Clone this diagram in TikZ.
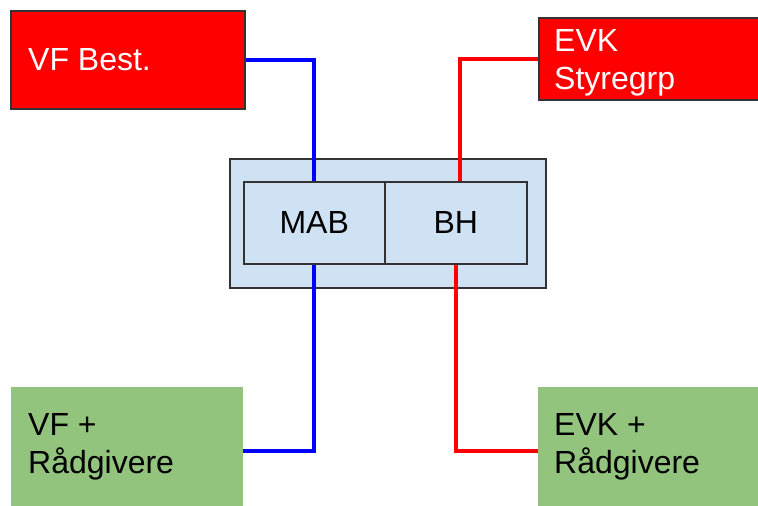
\documentclass[tikz,border=0pt]{standalone}
\usepackage{fontspec}
\setmainfont{Liberation Sans}
\definecolor{boxred}{HTML}{FF0000}
\definecolor{boxgreen}{HTML}{93C47D}
\definecolor{boxblue}{HTML}{CFE2F3}
\definecolor{edgegray}{HTML}{333333}
\definecolor{lineblue}{HTML}{0000FF}
\definecolor{linered}{HTML}{FF0000}
\begin{document}
\begin{tikzpicture}[x=1pt,y=-1pt,
  boxbase/.style={rectangle, inner sep=0pt, anchor=north west},
  redbox/.style={boxbase, draw=edgegray, line width=1.5pt, fill=boxred},
  greenbox/.style={boxbase, fill=boxgreen},
  outerbox/.style={boxbase, draw=edgegray, line width=1.5pt, fill=boxblue},
  innerbox/.style={boxbase, draw=edgegray, line width=1.5pt, fill=boxblue,
    font=\fontsize{32}{38}\selectfont, text=black},
  labeltext/.style={anchor=north west, inner sep=0pt, align=left,
    font=\fontsize{32}{38}\selectfont},
  blueline/.style={draw=lineblue, line width=4pt},
  redline/.style={draw=linered, line width=3.5pt}]
\useasboundingbox (0,0) rectangle (758,506);
\clip (0,0) rectangle (758,506);
% boxes
\node[redbox, minimum width=234pt, minimum height=98pt] (vfb) at (10,10) {};
\node[redbox, minimum width=232pt, minimum height=82pt] (evks) at (538,17) {};
\node[outerbox, minimum width=316pt, minimum height=129pt] (grp) at (229,158) {};
\node[innerbox, minimum width=141pt, minimum height=82pt] (mab) at (243,181) {MAB};
\node[innerbox, minimum width=142pt, minimum height=82pt] (bh) at (384,181) {BH};
\node[greenbox, minimum width=232pt, minimum height=128pt] (vfr) at (11,387) {};
\node[greenbox, minimum width=232pt, minimum height=128pt] (evkr) at (538,387) {};
% connectors
\draw[blueline] (vfb.east) -| (mab.north);
\draw[redline] (evks.west) -| ([xshift=4pt]bh.north);
\draw[blueline] (mab.south) |- (vfr.east);
\draw[redline] (bh.south) |- (evkr.west);
% texts
\node[labeltext, text=white] (tvfb) at (28,48) {VF Best.};
\node[labeltext, text=white] (tevks) at (554,29) {EVK\\Styregrp};
\node[labeltext, text=black] (tvfr) at (28,413) {VF +\\Rådgivere};
\node[labeltext, text=black] (tevkr) at (554,413) {EVK +\\Rådgivere};
\end{tikzpicture}
\end{document}
